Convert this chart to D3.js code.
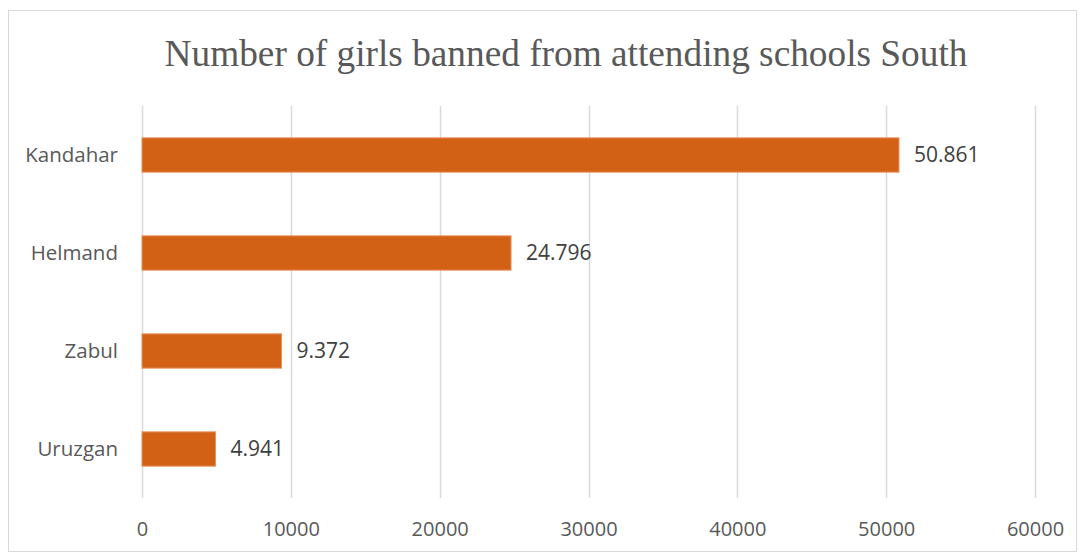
<!DOCTYPE html>
<html>
<head>
<meta charset="utf-8">
<script src="https://cdn.jsdelivr.net/npm/d3@7"></script>
<style>
  html, body { margin: 0; padding: 0; background: #fff; }
  svg { display: block; }
</style>
</head>
<body>
<div id="chart"></div>
<script>
const provinces = ['Kandahar', 'Helmand', 'Zabul', 'Uruzgan'];
const girlsBanned = [50861, 24796, 9372, 4941];
const valueLabels = ['50.861', '24.796', '9.372', '4.941'];
const xTicks = [0, 10000, 20000, 30000, 40000, 50000, 60000];
const title = 'Number of girls banned from attending schools South';

const W = 1084, H = 553;
const margin = { top: 106, right: 49, bottom: 55, left: 142 };

const svg = d3.select('#chart').append('svg')
  .attr('width', W)
  .attr('height', H);

// chart frame
svg.append('rect')
  .attr('x', 8.5).attr('y', 10.5)
  .attr('width', W - 8 - 8).attr('height', H - 12)
  .attr('fill', '#fff')
  .attr('stroke', '#d9d9d9');

svg.append('text')
  .attr('x', 566)
  .attr('y', 65.5)
  .attr('text-anchor', 'middle')
  .attr('font-family', '"Liberation Serif", "Times New Roman", serif')
  .attr('font-size', '37.3px')
  .attr('fill', '#595959')
  .text(title);

const x = d3.scaleLinear()
  .domain([0, 60000])
  .range([margin.left, W - margin.right]);

const y = d3.scaleBand()
  .domain(provinces)
  .range([margin.top, H - margin.bottom])
  .paddingInner(0.65)
  .paddingOuter(0.325);

const g = svg.append('g');

// vertical gridlines
g.selectAll('.grid')
  .data(xTicks)
  .join('line')
  .attr('class', 'grid')
  .attr('x1', d => Math.round(x(d)) + 0.5)
  .attr('x2', d => Math.round(x(d)) + 0.5)
  .attr('y1', margin.top)
  .attr('y2', H - margin.bottom)
  .attr('stroke', '#d9d9d9')
  .attr('stroke-width', 1.5);

// x axis labels
const xAxis = d3.axisBottom(x)
  .tickValues(xTicks)
  .tickFormat(d3.format('d'))
  .tickSize(0)
  .tickPadding(24);

const xg = svg.append('g')
  .attr('transform', `translate(0, ${H - margin.bottom})`)
  .call(xAxis);
xg.select('.domain').remove();
xg.selectAll('text')
  .attr('font-family', '"Open Sans", sans-serif')
  .attr('font-size', '20px')
  .attr('fill', '#595959');

// category labels
const yAxis = d3.axisLeft(y).tickSize(0).tickPadding(24);
const yg = svg.append('g')
  .attr('transform', `translate(${margin.left}, 0)`)
  .call(yAxis);
yg.select('.domain').remove();
yg.selectAll('text')
  .attr('font-family', '"Open Sans", sans-serif')
  .attr('font-size', '20.5px')
  .attr('fill', '#595959');

const data = provinces.map((p, i) => ({ p, v: girlsBanned[i], label: valueLabels[i] }));

g.selectAll('.bar')
  .data(data)
  .join('rect')
  .attr('class', 'bar')
  .attr('x', x(0))
  .attr('y', d => y(d.p))
  .attr('width', d => x(d.v) - x(0))
  .attr('height', y.bandwidth())
  .attr('fill', '#d26116')
  .attr('stroke', '#e8935c')
  .attr('stroke-width', 1);

g.selectAll('.val')
  .data(data)
  .join('text')
  .attr('class', 'val')
  .attr('x', d => x(d.v) + 15)
  .attr('y', d => y(d.p) + y.bandwidth() / 2)
  .attr('dy', '0.35em')
  .attr('font-family', '"Open Sans", sans-serif')
  .attr('font-size', '21px')
  .attr('fill', '#404040')
  .text(d => d.label);
</script>
</body>
</html>
